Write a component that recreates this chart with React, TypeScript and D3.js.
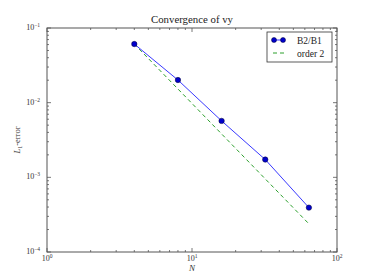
import React from "react";
import * as d3 from "d3";

const Ns = [4, 8, 16, 32, 64];
const errB2B1 = [0.061, 0.0201, 0.0057, 0.00173, 0.000393];
const orderNs = [4, 64];
const order2 = [0.061, 0.061 / 256];
const xTickExps = [0, 1, 2];
const yTickExps = [-1, -2, -3, -4];
const seriesLabels = ["B2/B1", "order 2"];

const W = 374, H = 280;
const L = 47, R = 337, T = 28, B = 252;
const serif = "'Liberation Serif', 'DejaVu Serif', serif";

export default function App() {
  const x = d3.scaleLog().domain([1, 100]).range([L, R]);
  const y = d3.scaleLog().domain([1e-4, 1e-1]).range([B, T]);
  const line = d3.line<[number, number]>().x(d => x(d[0])).y(d => y(d[1]));
  const mainPts: [number, number][] = Ns.map((n, i) => [n, errB2B1[i]]);
  const ordPts: [number, number][] = orderNs.map((n, i) => [n, order2[i]]);

  const xMinor: number[] = [];
  for (let e = 0; e < 2; e++) for (let k = 2; k <= 9; k++) xMinor.push(k * Math.pow(10, e));
  const yMinor: number[] = [];
  for (let e = -4; e < -1; e++) for (let k = 2; k <= 9; k++) yMinor.push(k * Math.pow(10, e));

  const axisColor = "#555";
  return (
    <svg width={W} height={H} style={{ position: "absolute", left: 0, top: 0, background: "#fff" }}>
      <rect x={0} y={0} width={W} height={H} fill="#fff" />
      {xTickExps.map(e => {
        const px = x(Math.pow(10, e));
        return (
          <g key={"xt" + e}>
            <line x1={px} x2={px} y1={B} y2={B - 4} stroke={axisColor} strokeWidth={0.8} />
            <line x1={px} x2={px} y1={T} y2={T + 4} stroke={axisColor} strokeWidth={0.8} />
            <text x={px} y={261} fontFamily={serif} fontSize={8} textAnchor="middle" fill="#333">
              10<tspan dy={-3} fontSize={5.5}>{e}</tspan>
            </text>
          </g>
        );
      })}
      {xMinor.map((v, i) => {
        const px = x(v);
        return (
          <g key={"xm" + i}>
            <line x1={px} x2={px} y1={B} y2={B - 2} stroke={axisColor} strokeWidth={0.8} />
            <line x1={px} x2={px} y1={T} y2={T + 2} stroke={axisColor} strokeWidth={0.8} />
          </g>
        );
      })}
      {yTickExps.map(e => {
        const py = y(Math.pow(10, e));
        return (
          <g key={"yt" + e}>
            <line x1={L} x2={L + 4} y1={py} y2={py} stroke={axisColor} strokeWidth={0.8} />
            <line x1={R} x2={R - 4} y1={py} y2={py} stroke={axisColor} strokeWidth={0.8} />
            <text x={40} y={py + 2} fontFamily={serif} fontSize={8} textAnchor="end" fill="#333">
              10<tspan dy={-3} fontSize={5.5}>{"\u2212" + Math.abs(e)}</tspan>
            </text>
          </g>
        );
      })}
      {yMinor.map((v, i) => {
        const py = y(v);
        return (
          <g key={"ym" + i}>
            <line x1={L} x2={L + 2} y1={py} y2={py} stroke={axisColor} strokeWidth={0.8} />
            <line x1={R} x2={R - 2} y1={py} y2={py} stroke={axisColor} strokeWidth={0.8} />
          </g>
        );
      })}
      <path d={line(ordPts) || ""} fill="none" stroke="#2ca02c" strokeWidth={1} strokeDasharray="4,3" />
      <path d={line(mainPts) || ""} fill="none" stroke="#3a3aff" strokeWidth={1} />
      {mainPts.map((p, i) => (
        <circle key={i} cx={x(p[0])} cy={y(p[1])} r={2.7} fill="#0000cc" stroke="#000033" strokeWidth={0.5} />
      ))}
      <rect x={L} y={T} width={R - L} height={B - T} fill="none" stroke={axisColor} strokeWidth={1} />
      <text x={(L + R) / 2} y={23} fontFamily={serif} fontSize={10.8} textAnchor="middle" fill="#222">
        Convergence of vy
      </text>
      <text x={(L + R) / 2} y={271} fontFamily={serif} fontSize={9} fontStyle="italic" textAnchor="middle" fill="#333">
        N
      </text>
      <text transform={`translate(20,${(T + B) / 2}) rotate(-90)`} fontFamily={serif} fontSize={8.5} textAnchor="middle" fill="#333">
        <tspan fontStyle="italic">L</tspan>
        <tspan fontSize={6} dy={2}>1</tspan>
        <tspan dy={-2}>-error</tspan>
      </text>
      <rect x={267} y={32} width={65} height={30} fill="#fff" stroke="#333" strokeWidth={0.8} />
      <line x1={274} x2={283} y1={40} y2={40} stroke="#3a3aff" strokeWidth={1} />
      <circle cx={274} cy={40} r={2.5} fill="#0000cc" stroke="#000033" strokeWidth={0.5} />
      <circle cx={283} cy={40} r={2.5} fill="#0000cc" stroke="#000033" strokeWidth={0.5} />
      <text x={297} y={43.5} fontFamily={serif} fontSize={9.5} fill="#222">{seriesLabels[0]}</text>
      <line x1={273} x2={286} y1={53} y2={53} stroke="#2ca02c" strokeWidth={1} strokeDasharray="4,3" />
      <text x={297} y={56.5} fontFamily={serif} fontSize={9.5} fill="#222">{seriesLabels[1]}</text>
    </svg>
  );
}
